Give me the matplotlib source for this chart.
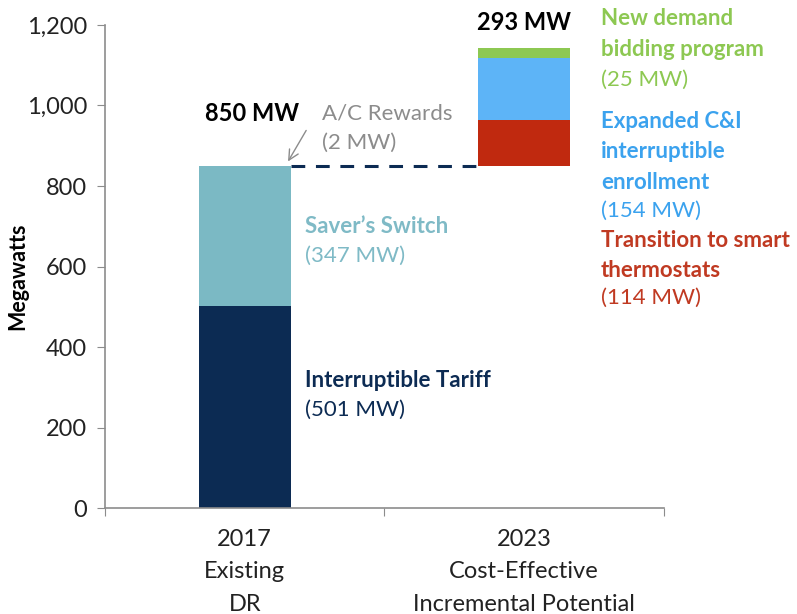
import matplotlib
matplotlib.use("Agg")
import matplotlib.pyplot as plt

plt.rcParams['font.family'] = ['Lato', 'DejaVu Sans']

# Category labels on the x axis
categories = ["2017\nExisting\nDR", "2023\nCost-Effective\nIncremental Potential"]

# 2017 existing demand response programs (MW)
existing_names = ["Interruptible Tariff", "Saver\u2019s Switch", "A/C Rewards"]
existing_mw = [501, 347, 2]
existing_colors = ["#0c2b53", "#7bb9c4", "#7bb9c4"]

# 2023 incremental potential (MW), stacked on top of the existing total
incr_names = ["Transition to smart\nthermostats", "Expanded C&I\ninterruptible\nenrollment",
              "New demand\nbidding program"]
incr_mw = [114, 154, 25]
incr_colors = ["#c0290f", "#5db4f7", "#8dc852"]
incr_text_colors = ["#c03a22", "#3ba2ee", "#8dc852"]

yticks = [0, 200, 400, 600, 800, 1000, 1200]

fig = plt.figure(figsize=(7.97, 6.14), dpi=100)
ax = fig.add_axes([0.1317, 0.1726, 0.7013, 0.7867])

width = 0.33
# Existing stack
bottom = 0
for v, c in zip(existing_mw, existing_colors):
    ax.bar(0, v, width=width, bottom=bottom, color=c, edgecolor='none')
    bottom += v
existing_total = bottom

# Incremental stack
bottom2 = existing_total
for v, c in zip(incr_mw, incr_colors):
    ax.bar(1, v, width=width, bottom=bottom2, color=c, edgecolor='none')
    bottom2 += v
incr_total = bottom2 - existing_total

# Dashed connector between the two stacks
ax.plot([width / 2, 1 - width / 2], [existing_total, existing_total],
        linestyle=(0, (4.5, 3.5)), color="#0c2b53", lw=2.2)

ax.set_xlim(-0.5, 1.5)
ax.set_ylim(0, 1200)
ax.set_yticks(yticks)
ax.set_yticklabels([f"{t:,}" for t in yticks], fontsize=17, color="#222222")
ax.set_xticks([-0.5, 0.5, 1.5])
ax.set_xticklabels([])
ax.set_xticks([0, 1], minor=True)
ax.set_xticklabels(categories, minor=True, fontsize=17, color="#222222", linespacing=1.68)
ax.tick_params(axis='x', which='minor', length=0, pad=15)
ax.tick_params(axis='x', which='major', length=6, color="#8c8c8c", direction='out')
ax.tick_params(axis='y', length=6, color="#8c8c8c", direction='out', pad=7)
for s in ["top", "right"]:
    ax.spines[s].set_visible(False)
for s in ["left", "bottom"]:
    ax.spines[s].set_color("#8c8c8c")
    ax.spines[s].set_linewidth(1.2)

ax.set_ylabel("Megawatts", fontsize=15.5, fontweight='bold')
ax.yaxis.set_label_coords(-0.138, 0.48)

fs = 16

# Totals
ax.text(0.025, 981, f"{existing_total} MW", fontsize=17, fontweight='bold',
        ha='center', va='center', color="black")
ax.text(1.0, 1207, f"{incr_total} MW", fontsize=17, fontweight='bold',
        ha='center', va='center', color="black", clip_on=False)

# A/C Rewards callout
ax.text(0.275, 981, existing_names[2], fontsize=fs, color="#8c8c8c", ha='left', va='center')
ax.text(0.275, 907, f"({existing_mw[2]} MW)", fontsize=fs, color="#8c8c8c", ha='left', va='center')
ax.annotate("", xy=(0.15, existing_total + 5), xytext=(0.225, 944),
            arrowprops=dict(arrowstyle='->', color="#8c8c8c", lw=1.0, mutation_scale=18))

# Saver's Switch
ax.text(0.214, 700, existing_names[1], fontsize=fs, fontweight='bold', color="#7fbac6",
        ha='left', va='center')
ax.text(0.214, 626, f"({existing_mw[1]} MW)", fontsize=fs, color="#7fbac6",
        ha='left', va='center')

# Interruptible Tariff
ax.text(0.214, 318, existing_names[0], fontsize=fs, fontweight='bold', color="#0c2b53",
        ha='left', va='center')
ax.text(0.214, 243, f"({existing_mw[0]} MW)", fontsize=fs, color="#0c2b53",
        ha='left', va='center')

# Incremental program labels on the right
px_to_val = lambda py: (508 - py) / 0.4025
xr = 1.275
label_rows = [
    (2, [19, 50], 80),
    (1, [122, 152, 182], 211),
    (0, [240, 270], 298),
]
for idx, rows, num_y in label_rows:
    lines = incr_names[idx].split("\n")
    for line, py in zip(lines, rows):
        ax.text(xr, px_to_val(py), line, fontsize=fs, fontweight='bold',
                color=incr_text_colors[idx], ha='left', va='center', clip_on=False)
    ax.text(xr, px_to_val(num_y), f"({incr_mw[idx]} MW)", fontsize=fs,
            color=incr_text_colors[idx], ha='left', va='center', clip_on=False)

fig.savefig("out.png", dpi=100)
